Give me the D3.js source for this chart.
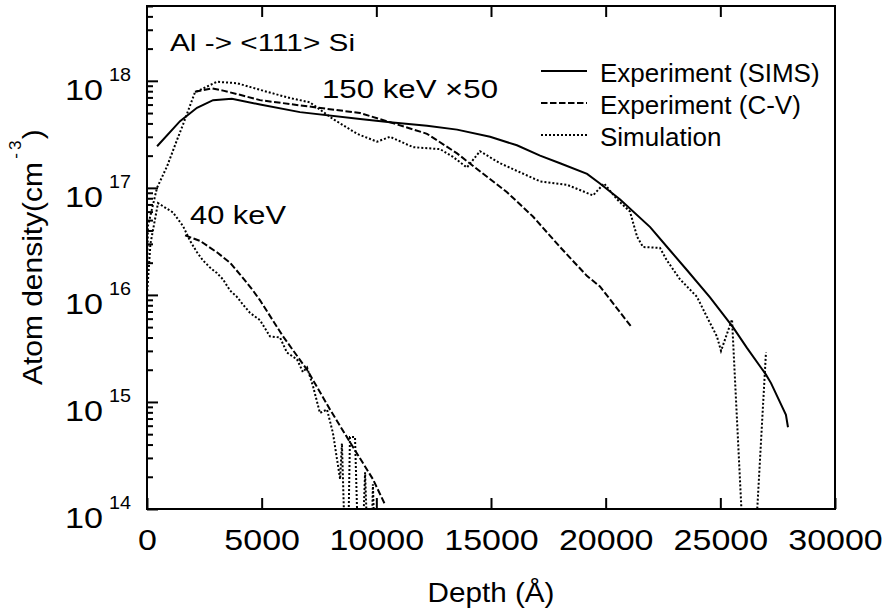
<!DOCTYPE html>
<html><head><meta charset="utf-8">
<script src="https://cdn.jsdelivr.net/npm/d3@7"></script>
<style>
body{margin:0;background:#fff;}
svg{display:block;font-family:"Liberation Sans",Arial,Helvetica,sans-serif;}
</style></head><body>
<svg id="chart" width="884" height="612"></svg>
<script>
// ---- data (depth in Å, atom density in cm^-3 as plotted) ----
const xTickValues = [0, 5000, 10000, 15000, 20000, 25000, 30000];
const yMajorValues = [1e14, 1e15, 1e16, 1e17, 1e18];
const yExponents = ["14", "15", "16", "17", "18"];
const seriesNames = ["Experiment (SIMS)", "Experiment (C-V)", "Simulation"];

const simsDepth150 = [440,1440,2180,2880,3700,4930,6670,9290,10600,12210,13520,14960,16130,17140,18010,19190,19750,20630,21940,22810,23550,24550,25550,26160,26990,27210,27860,27950];
const simsConc150  = [2.45e17,4.2e17,5.6e17,6.6e17,6.8e17,6.0e17,5.1e17,4.4e17,4.1e17,3.8e17,3.5e17,3.0e17,2.5e17,2.0e17,1.7e17,1.35e17,1.1e17,7.8e16,4.3e16,2.6e16,1.7e16,9.5e15,5.0e15,3.2e15,1.8e15,1.5e15,7.6e14,5.8e14];

const cvDepth150 = [2090,2840,3320,4050,4930,6670,9290,10600,12210,13520,14390,15700,16830,18010,19190,19750,21100];
const cvConc150  = [7.9e17,8.5e17,8.1e17,7.4e17,6.6e17,5.9e17,5.0e17,4.1e17,3.2e17,2.1e17,1.5e17,9.1e16,5.4e16,2.8e16,1.5e16,1.2e16,5.1e15];

const simDepth150 = [0,40,436,880,1308,1570,2090,3050,3920,5230,6240,7100,8110,9160,10030,10600,11600,12780,13340,13950,14520,15390,16260,17140,18310,19450,19930,20500,21060,21370,21630,22370,22670,23240,23980,24420,24850,25030,25510,26150,26350,26990];
const simConc150  = [1.2e16,4.4e16,1.0e17,1.6e17,2.8e17,3.9e17,7.8e17,9.8e17,9.5e17,7.9e17,6.9e17,6.3e17,4.4e17,3.2e17,2.7e17,3.0e17,2.4e17,2.3e17,1.95e17,1.55e17,2.2e17,1.7e17,1.4e17,1.15e17,1.07e17,8.5e16,1.1e17,7.8e16,6.0e16,3.5e16,2.8e16,2.75e16,2.1e16,1.4e16,9.6e15,6.2e15,4.1e15,3.0e15,5.9e15,1e13,1e13,2.9e15];

const cvDepth40 = [1660,2310,3050,3620,4060,4620,4930,5930,6980,7980,8980,9850,10380];
const cvConc40  = [3.6e16,3.2e16,2.5e16,2.0e16,1.55e16,1.1e16,8.9e15,4.1e15,2.0e15,8.5e14,3.8e14,1.9e14,1.1e14];

const simDepth40 = [0,150,480,1130,1570,1880,2180,2440,2750,3050,3310,3620,3920,4190,4490,4930,5360,5800,6100,6540,6800,6980,7240,7540,7850,8110,8420,8500,8720,8850,9070,9290,9510,9720,9850,10030];
const simConc40  = [1.0e16,3.0e16,7.2e16,5.9e16,4.4e16,3.2e16,2.5e16,2.1e16,1.8e16,1.6e16,1.4e16,1.1e16,9.6e15,8.1e15,6.8e15,5.8e15,4.1e15,4.0e15,2.9e15,2.5e15,1.9e15,2.1e15,1.4e15,7.9e14,8.5e14,5.1e14,1.9e14,4.1e14,1e13,4.7e14,4.7e14,1e13,2.2e14,1e13,1.7e14,1e13];

// ---- layout ----
const L = 147, R = 835, T = 6, B = 509;
const svg = d3.select("#chart");
const x = d3.scaleLinear().domain([0, 30000]).range([L, R]);
const y = d3.scaleLog().domain([1e14, 5e18]).range([B, T]);

const styles = [
  {dash: null},
  {dash: "6.5,2.5"},
  {dash: "2,2"}
];

svg.append("defs").append("clipPath").attr("id", "clip")
  .append("rect").attr("x", L).attr("y", T).attr("width", R - L).attr("height", B - T);

const line = d3.line().x(d => x(d[0])).y(d => y(d[1]));
const plot = svg.append("g").attr("clip-path", "url(#clip)");
const curves = [
  [simsDepth150, simsConc150, 0],
  [cvDepth150, cvConc150, 1],
  [simDepth150, simConc150, 2],
  [cvDepth40, cvConc40, 1],
  [simDepth40, simConc40, 2]
];
curves.forEach(([dx, dy, s]) => {
  plot.append("path")
    .datum(d3.zip(dx, dy))
    .attr("d", line)
    .attr("fill", "none")
    .attr("stroke", "#000")
    .attr("stroke-width", 2)
    .attr("stroke-dasharray", styles[s].dash);
});

// ---- axes ----
function styleAxis(g) {
  g.select(".domain").remove();
  g.selectAll(".tick line").attr("stroke", "#000").attr("stroke-width", 2);
}
const fmt = d3.format("d");
const xb = svg.append("g").attr("transform", `translate(0,${B})`)
  .call(d3.axisBottom(x).tickValues(xTickValues).tickSize(-11).tickPadding(20.5).tickFormat(fmt))
  .call(styleAxis);
xb.selectAll(".tick text")
  .attr("font-size", 29).attr("fill", "#000")
  .attr("font-family", '"Liberation Sans",Arial,sans-serif')
  .attr("textLength", d => fmt(d).length * 18.9)
  .attr("lengthAdjust", "spacingAndGlyphs");

svg.append("g").attr("transform", `translate(0,${T})`)
  .call(d3.axisTop(x).tickValues(xTickValues.slice(1, -1)).tickSize(-11).tickFormat(""))
  .call(styleAxis);

const minor = y.ticks().filter(v => !yMajorValues.includes(v));
svg.append("g").attr("transform", `translate(${L},0)`)
  .call(d3.axisLeft(y).tickValues(minor).tickSize(-6).tickFormat(""))
  .call(styleAxis);
svg.append("g").attr("transform", `translate(${L},0)`)
  .call(d3.axisLeft(y).tickValues(yMajorValues).tickSize(-11).tickFormat(""))
  .call(styleAxis);

const yl = svg.append("g");
yMajorValues.forEach((v, i) => {
  const ty = y(v);
  yl.append("text").attr("x", 65).attr("y", ty + 19)
    .attr("font-size", 29).attr("textLength", 38).attr("lengthAdjust", "spacingAndGlyphs")
    .text("10");
  yl.append("text").attr("x", 109).attr("y", ty)
    .attr("font-size", 18).attr("textLength", 22).attr("lengthAdjust", "spacingAndGlyphs")
    .text(yExponents[i]);
});

// frame
svg.append("rect").attr("x", L).attr("y", T).attr("width", R - L).attr("height", B - T)
  .attr("fill", "none").attr("stroke", "#000").attr("stroke-width", 2);

// ---- axis titles ----
svg.append("text").attr("x", 491).attr("y", 602).attr("text-anchor", "middle")
  .attr("font-size", 28).attr("textLength", 127).attr("lengthAdjust", "spacingAndGlyphs")
  .text("Depth (Å)");

const yt = svg.append("text")
  .attr("transform", "translate(42,385) rotate(-90) scale(1.07,1)")
  .attr("font-size", 28);
yt.append("tspan").text("Atom density(cm");
yt.append("tspan").attr("font-size", 16).attr("dx", 3).attr("dy", -21).text("-");
yt.append("tspan").attr("font-size", 16).attr("dx", 3).text("3");
yt.append("tspan").attr("dy", 21).attr("dx", 1).text(")");

// ---- annotations ----
svg.append("text").attr("x", 170).attr("y", 50.5).attr("font-size", 24)
  .attr("textLength", 185).attr("lengthAdjust", "spacingAndGlyphs").text("Al -> <111> Si");
svg.append("text").attr("x", 322).attr("y", 98).attr("font-size", 26)
  .attr("textLength", 176).attr("lengthAdjust", "spacingAndGlyphs").text("150 keV \u00d750");
svg.append("text").attr("x", 190).attr("y", 224).attr("font-size", 26)
  .attr("textLength", 96).attr("lengthAdjust", "spacingAndGlyphs").text("40 keV");

// ---- legend ----
const lg = svg.append("g");
seriesNames.forEach((n, i) => {
  const ly = 71 + i * 32;
  lg.append("line").attr("x1", 541).attr("x2", 587).attr("y1", ly).attr("y2", ly)
    .attr("stroke", "#000").attr("stroke-width", 2).attr("stroke-dasharray", styles[i].dash);
  lg.append("text").attr("x", 600).attr("y", ly + 11).attr("font-size", 26).text(n);
});
</script>
</body></html>
